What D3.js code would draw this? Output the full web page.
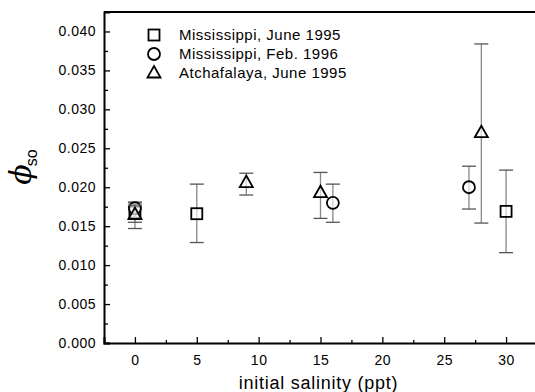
<!DOCTYPE html>
<html><head><meta charset="utf-8">
<script src="https://cdn.jsdelivr.net/npm/d3@7"></script>
<style>body{margin:0;background:#fff}svg{display:block;font-family:"Liberation Sans",Arial,sans-serif}</style>
</head><body><svg id="c" width="535" height="392"></svg>
<script>
const seriesNames = ["Mississippi, June 1995","Mississippi, Feb. 1996","Atchafalaya, June 1995"];
const seriesSymbols = ["square","circle","triangle"];
// salinity, value, lower error, upper error
const missJune95 = [[0,0.0168,0.0147,0.0180],[5,0.0166,0.0129,0.0204],[30,0.0169,0.0116,0.0222]];
const missFeb96 = [[0,0.0173,0.0160,0.0181],[16,0.0180,0.0155,0.0204],[27,0.0200,0.0172,0.0227]];
const atchJune95 = [[0,0.0165,0.0155,0.0177],[9,0.0206,0.0190,0.0218],[15,0.0193,0.0160,0.0219],[28,0.0270,0.0154,0.0384]];
const xTicks = [0,5,10,15,20,25,30];
const yTicks = [0,0.005,0.010,0.015,0.020,0.025,0.030,0.035,0.040];

const svg = d3.select("#c");
const L=104,R=537,T=12,B=343;
const x = d3.scaleLinear().domain([-2.5,32.5]).range([L,R]);
const y = d3.scaleLinear().domain([0,0.0425]).range([B,T]);

// frame
svg.append("line").attr("x1",L).attr("x2",R).attr("y1",T).attr("y2",T).attr("stroke","#000").attr("stroke-width",2);
svg.append("line").attr("x1",R).attr("x2",R).attr("y1",T).attr("y2",B).attr("stroke","#000").attr("stroke-width",2);

// axes
svg.append("g").attr("transform",`translate(0,${B})`)
  .call(d3.axisBottom(x).tickValues(xTicks).tickSize(-6).tickPadding(12).tickFormat(d3.format("d")));
svg.append("g").attr("transform",`translate(0,${B})`)
  .call(d3.axisBottom(x).tickValues(d3.range(-2.5,33,5)).tickSize(-3).tickFormat(""))
  .call(g=>g.select(".domain").remove());
svg.append("g").attr("transform",`translate(${L},0)`)
  .call(d3.axisLeft(y).tickValues(yTicks).tickSize(-6).tickPadding(8).tickFormat(d3.format(".3f")));
svg.append("g").attr("transform",`translate(${L},0)`)
  .call(d3.axisLeft(y).tickValues(d3.range(0.0025,0.042,0.005)).tickSize(-4).tickFormat(""))
  .call(g=>g.select(".domain").remove());
svg.selectAll(".domain").attr("stroke-width",2);
svg.selectAll(".tick line").attr("stroke-width",1.3);
svg.selectAll(".tick text").attr("font-size",14).attr("letter-spacing",0.5).attr("fill","#000")
  .attr("font-family","Liberation Sans, Arial, sans-serif");

// axis titles
svg.append("text").attr("x",(x(-2.5)+x(32.5))/2 - 2).attr("y",389).attr("text-anchor","middle")
  .attr("font-size",18).attr("letter-spacing",0.75).text("initial salinity (ppt)");
const yl = svg.append("text").attr("transform","translate(31,167) rotate(-90)").attr("text-anchor","middle");
yl.append("tspan").attr("font-size",30).attr("font-style","italic").attr("font-family","DejaVu Serif, serif").text("ϕ");
yl.append("tspan").attr("font-size",16).attr("dy",6).attr("dx",-2).text("so");

// markers
const sym = {
  square: g=>g.append("rect").attr("x",-5.5).attr("y",-5.5).attr("width",11).attr("height",11),
  circle: g=>g.append("circle").attr("r",6),
  triangle: g=>g.append("path").attr("d","M0,-7L6.5,4.5L-6.5,4.5Z")
};
const allSeries = [missJune95, missFeb96, atchJune95];
allSeries.forEach((data,i)=>{
  const g = svg.append("g");
  data.forEach(d=>{
    const px = x(d[0]);
    g.append("line").attr("x1",px).attr("x2",px).attr("y1",y(d[2])).attr("y2",y(d[3])).attr("stroke","#888").attr("stroke-width",1.3);
    [d[2],d[3]].forEach(v=>g.append("line").attr("x1",px-7).attr("x2",px+7).attr("y1",y(v)).attr("y2",y(v)).attr("stroke","#555").attr("stroke-width",1.3));
  });
  data.forEach(d=>{
    const m = svg.append("g").attr("transform",`translate(${x(d[0])},${y(d[1])})`);
    sym[seriesSymbols[i]](m).attr("fill","#fff").attr("fill-opacity",0.6).attr("stroke","#000").attr("stroke-width",1.8);
  });
});

// legend
seriesNames.forEach((n,i)=>{
  const yy = 35 + i*19;
  const m = svg.append("g").attr("transform",`translate(154,${yy})`);
  sym[seriesSymbols[i]](m).attr("fill","none").attr("stroke","#000").attr("stroke-width",1.8);
  svg.append("text").attr("x",179).attr("y",yy+5).attr("font-size",15).attr("letter-spacing",0.5).text(n);
});
</script></body></html>
